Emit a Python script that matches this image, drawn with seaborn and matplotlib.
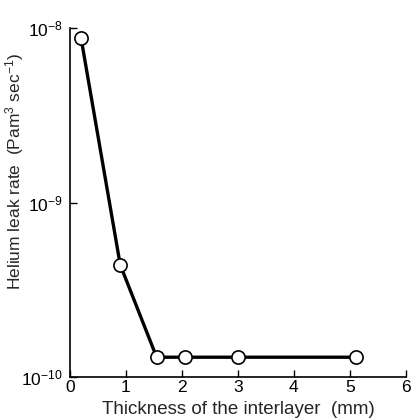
import numpy as np
import pandas as pd
import matplotlib
matplotlib.use("Agg")
import matplotlib.pyplot as plt
import seaborn as sns

# datos
thickness = [0.2, 0.9, 1.55, 2.05, 3.0, 5.1]
leak_rate = [8.8e-9, 4.4e-10, 1.3e-10, 1.3e-10, 1.3e-10, 1.3e-10]
x_ticks = [0, 1, 2, 3, 4, 5, 6]
y_ticks = [1e-10, 1e-9, 1e-8]

df = pd.DataFrame({"thickness": thickness, "leak": leak_rate})

sns.set_style("ticks")
plt.rcParams["font.family"] = ["Liberation Sans", "DejaVu Sans"]
plt.rcParams["mathtext.fontset"] = "custom"
plt.rcParams["mathtext.rm"] = "Liberation Sans"
plt.rcParams["mathtext.it"] = "Liberation Sans"

fig = plt.figure(figsize=(4.13, 4.19), dpi=100)
ax = fig.add_axes([0.169, 0.100, 0.814, 0.833])

sns.lineplot(data=df, x="thickness", y="leak", ax=ax, color="black", linewidth=2.4,
             marker="o", markersize=9.5, markerfacecolor="white",
             markeredgecolor="black", markeredgewidth=1.2)

ax.set_yscale("log")
ax.set_xlim(0, 6)
ax.set_ylim(1e-10, 1e-8)
ax.set_xticks(x_ticks)
ax.set_yticks(y_ticks)
ax.yaxis.set_minor_locator(matplotlib.ticker.NullLocator())
ax.tick_params(direction="in", length=5, width=1, labelsize=12.5, colors="black")
ax.tick_params(axis="y", pad=5)
ax.tick_params(axis="x", pad=2)

ax.set_xlabel("Thickness of the interlayer  (mm)", fontsize=13.5)
ax.set_ylabel("Helium leak rate  (Pam$^3$ sec$^{-1}$)", fontsize=12.5)
ax.xaxis.set_label_coords(0.5, -0.068)
ax.yaxis.set_label_coords(-0.13, 0.59)

sns.despine(ax=ax)
for s in ["left", "bottom"]:
    ax.spines[s].set_linewidth(1.2)
    ax.spines[s].set_color("black")

fig.savefig("out.png", dpi=100)
